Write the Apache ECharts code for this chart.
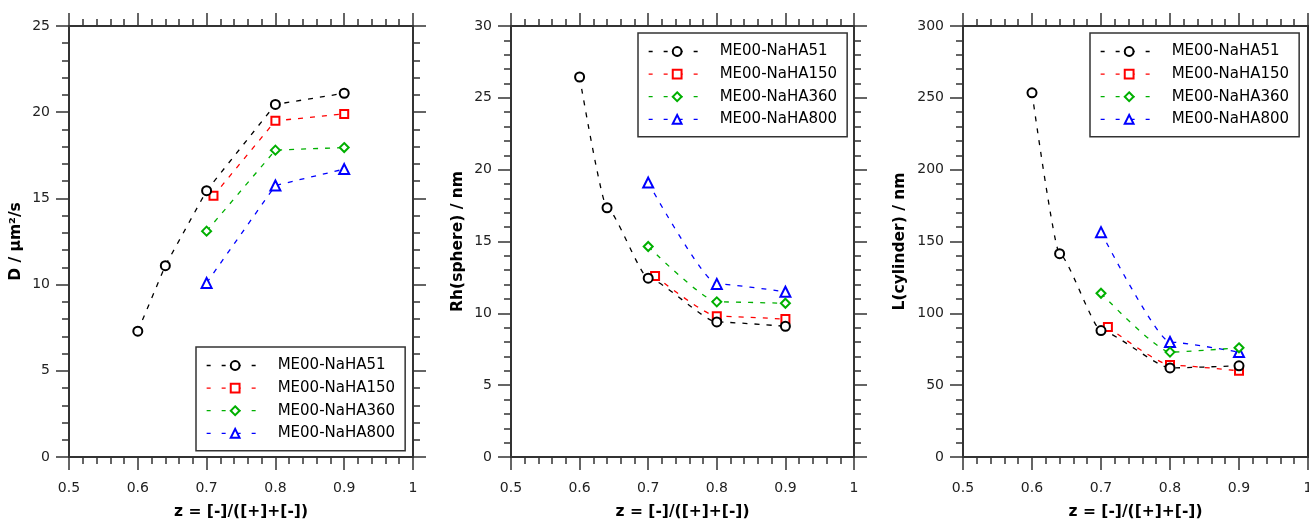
<!DOCTYPE html>
<html>
<head>
<meta charset="utf-8">
<script src="https://cdn.jsdelivr.net/npm/echarts@6/dist/echarts.min.js"></script>
<style>
html,body{margin:0;padding:0;background:#fff;}
#c{width:1309px;height:521px;}
</style>
</head>
<body>
<div id="c"></div>
<script>
// ---- data ----
const seriesNames = ['ME00-NaHA51', 'ME00-NaHA150', 'ME00-NaHA360', 'ME00-NaHA800'];
const x51 = [0.6, 0.64, 0.7, 0.8, 0.9];
const x150 = [0.71, 0.8, 0.9];
const x360 = [0.7, 0.8, 0.9];
const x800 = [0.7, 0.8, 0.9];

const D51 = [7.3, 11.1, 15.45, 20.45, 21.1];
const D150 = [15.15, 19.5, 19.9];
const D360 = [13.1, 17.8, 17.95];
const D800 = [10.1, 15.75, 16.7];

const Rh51 = [26.45, 17.35, 12.45, 9.4, 9.1];
const Rh150 = [12.6, 9.8, 9.6];
const Rh360 = [14.65, 10.8, 10.7];
const Rh800 = [19.1, 12.05, 11.5];

const L51 = [253.5, 141.5, 88, 62, 63.5];
const L150 = [90.5, 64, 60];
const L360 = [114, 73, 76];
const L800 = [156.5, 80, 73];

const xTicks = [0.5, 0.6, 0.7, 0.8, 0.9, 1];
const xName = 'z = [-]/([+]+[-])';
const yNames = ['D / μm²/s', 'Rh(sphere) / nm', 'L(cylinder) / nm'];

// ---- styles ----
const FONT = 'DejaVu Sans';
const AX = '#333';
const colors = ['#000000', '#ff0000', '#00b000', '#0000ff'];
const symbols = ['emptyCircle', 'emptyRect', 'emptyDiamond', 'emptyTriangle'];
const symSizes = [9, 8, 9, 10];

const pair = (xs, ys) => xs.map((x, i) => [x, ys[i]]);

const panels = [
  {left: 69, width: 344, ymax: 25, yint: 5, yName: yNames[0], yGap: 45, smooth: false,
   data: [pair(x51, D51), pair(x150, D150), pair(x360, D360), pair(x800, D800)],
   legend: {left: 196, top: 347}},
  {left: 511, width: 343, ymax: 30, yint: 5, yName: yNames[1], yGap: 45, smooth: 0.18,
   data: [pair(x51, Rh51), pair(x150, Rh150), pair(x360, Rh360), pair(x800, Rh800)],
   legend: {left: 638, top: 33}},
  {left: 963, width: 345, ymax: 300, yint: 50, yName: yNames[2], yGap: 55, smooth: 0.18,
   data: [pair(x51, L51), pair(x150, L150), pair(x360, L360), pair(x800, L800)],
   legend: {left: 1090, top: 33}}
];

const grid = [], xAxis = [], yAxis = [], series = [], legend = [];

function axisCommon(min, max, interval) {
  return {
    type: 'value', min: min, max: max, interval: interval,
    splitLine: {show: false},
    axisLine: {show: true, onZero: false, lineStyle: {color: AX, width: 2}},
    axisTick: {show: true, inside: false, length: 13, lineStyle: {color: AX, width: 1.5}},
    minorTick: {show: true, splitNumber: 5, length: 7, lineStyle: {color: AX, width: 1.5}},
    minorSplitLine: {show: false}
  };
}

panels.forEach((p, gi) => {
  grid.push({left: p.left, width: p.width, top: 26, height: 431, containLabel: false, outerBoundsMode: 'none'});
  const xb = Object.assign(axisCommon(0.5, 1, 0.1), {
    gridIndex: gi, position: 'bottom',
    name: xName, nameLocation: 'middle', nameGap: 47,
    nameTextStyle: {fontFamily: FONT, fontWeight: 'bold', fontSize: 15.5, color: '#000'},
    axisLabel: {show: true, margin: 24, fontFamily: FONT, fontSize: 14, color: '#222',
      formatter: v => (Math.abs(v - 1) < 1e-9 ? '1' : v.toFixed(1))}
  });
  const xt = Object.assign(axisCommon(0.5, 1, 0.1), {gridIndex: gi, position: 'top', axisLabel: {show: false}});
  xAxis.push(xb, xt);
  const yl = Object.assign(axisCommon(0, p.ymax, p.yint), {
    gridIndex: gi, position: 'left',
    name: p.yName, nameLocation: 'middle', nameGap: p.yGap, nameRotate: 90,
    nameTextStyle: {fontFamily: FONT, fontWeight: 'bold', fontSize: 15.5, color: '#000'},
    axisLabel: {show: true, margin: 19, fontFamily: FONT, fontSize: 14, color: '#222'}
  });
  const yr = Object.assign(axisCommon(0, p.ymax, p.yint), {gridIndex: gi, position: 'right', axisLabel: {show: false}});
  yAxis.push(yl, yr);

  p.data.forEach((d, si) => {
    series.push({
      type: 'line', name: seriesNames[si],
      xAxisIndex: gi * 2, yAxisIndex: gi * 2,
      data: d, smooth: p.smooth, smoothMonotone: 'x',
      symbol: symbols[si], symbolSize: symSizes[si],
      itemStyle: {color: colors[si], borderWidth: 2},
      lineStyle: {color: colors[si], width: 1.3, type: [5, 7]},
      z: 10 - si,
      animation: false
    });
  });

  legend.push({
    orient: 'vertical', left: p.legend.left, top: p.legend.top,
    data: seriesNames,
    itemWidth: 57, itemHeight: 11, itemGap: 7.6,
    padding: [11, 10, 10, 10],
    borderColor: '#333', borderWidth: 1.5, backgroundColor: '#fff',
    selectedMode: false,
    lineStyle: {type: [4, 11], width: 1.3},
    itemStyle: {borderWidth: 1.5},
    textStyle: {fontFamily: FONT, fontSize: 15, color: '#000', padding: [0, 0, 0, 9]}
  });
});

const chart = echarts.init(document.getElementById('c'), null, {renderer: 'canvas'});
chart.setOption({
  animation: false,
  backgroundColor: '#fff',
  grid: grid, xAxis: xAxis, yAxis: yAxis, series: series, legend: legend
});
</script>
</body>
</html>
